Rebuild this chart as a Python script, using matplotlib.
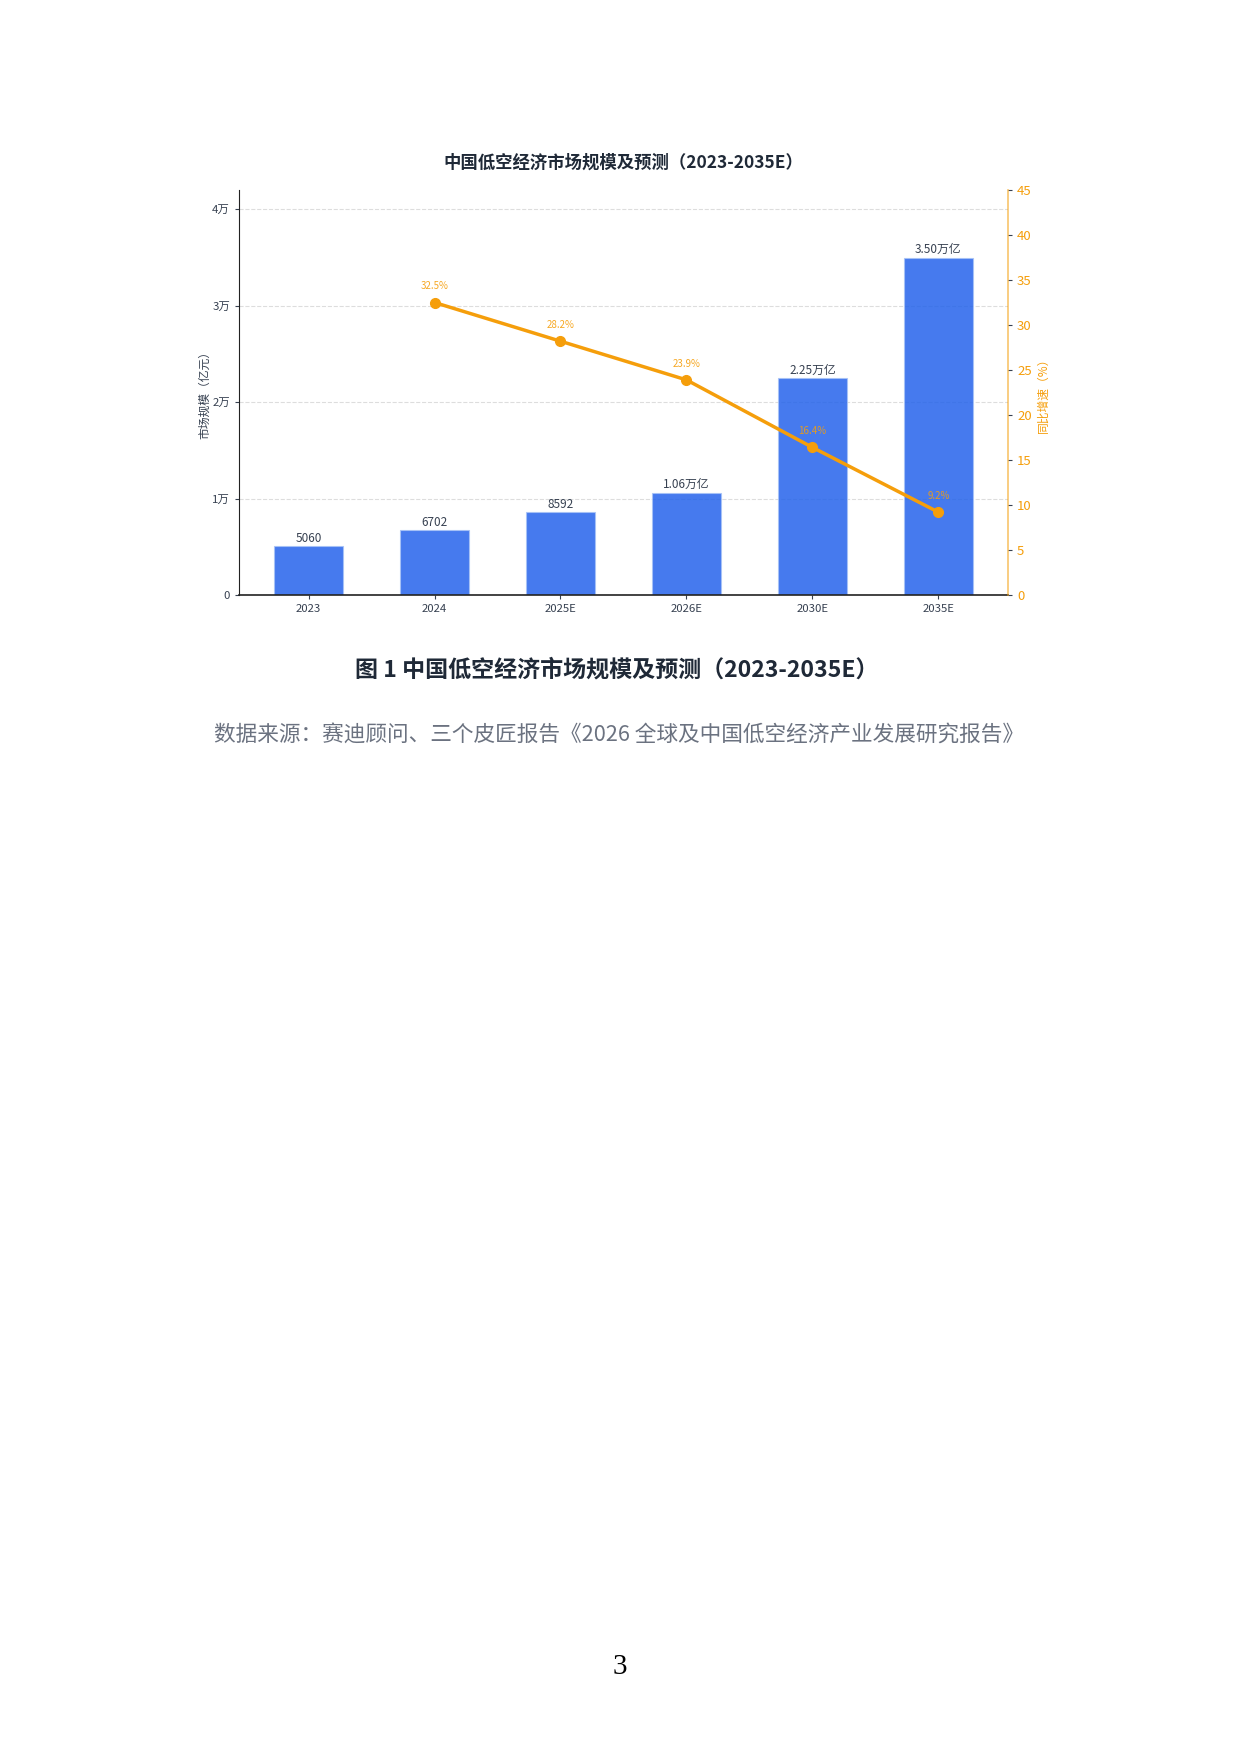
import matplotlib
matplotlib.use("Agg")
import matplotlib.pyplot as plt
from matplotlib.ticker import FuncFormatter

plt.rcParams['font.family'] = ['Noto Sans CJK SC', 'DejaVu Sans']
plt.rcParams['axes.unicode_minus'] = False

# data
years = ['2023', '2024', '2025E', '2026E', '2030E', '2035E']
market = [5060, 6702, 8592, 10600, 22500, 35000]  # 亿元
market_labels = ['5060', '6702', '8592', '1.06万亿', '2.25万亿', '3.50万亿']
growth_years = ['2024', '2025E', '2026E', '2030E', '2035E']
growth = [32.5, 28.2, 23.9, 16.4, 9.2]  # %

BLUE = '#2563eb'
ORANGE = '#f59e0b'
DARK = '#374151'

fig = plt.figure(figsize=(12.4, 17.53), dpi=100)
ax = fig.add_axes([0.1927, 0.6606, 0.6202, 0.2310])

x = list(range(len(years)))
bars = ax.bar(x, market, width=0.55, color=BLUE, alpha=0.85,
              edgecolor='#a8c3f7', linewidth=0.8, zorder=2)
ax.bar_label(bars, labels=market_labels, padding=1, fontsize=8.5, color=DARK)

ax.set_ylim(0, 42000)
ax.set_yticks([0, 10000, 20000, 30000, 40000])
ax.yaxis.set_major_formatter(FuncFormatter(lambda v, p: '0' if v == 0 else f'{int(v / 10000)}万'))
ax.set_xticks(x)
ax.set_xticklabels(years)
ax.tick_params(axis='both', labelsize=8.2, colors=DARK, length=3)
ax.set_ylabel('市场规模（亿元）', fontsize=8.5, color=DARK, labelpad=1)
ax.grid(axis='y', linestyle='--', color='#dddddd', linewidth=0.8, zorder=0)
ax.set_axisbelow(True)
ax.spines['top'].set_visible(False)
ax.spines['right'].set_visible(False)
ax.spines['left'].set_color('#222222')
ax.spines['bottom'].set_color('#222222')
ax.spines['bottom'].set_linewidth(1.2)

ax2 = ax.twinx()
gx = [years.index(g) for g in growth_years]
ax2.plot(gx, growth, color=ORANGE, linewidth=2.5, marker='o', markersize=7, zorder=3)
for xi, g in zip(gx, growth):
    ax2.annotate(f'{g}%', (xi, g), textcoords='offset points', xytext=(0, 8),
                 ha='center', va='bottom', fontsize=7, color=ORANGE, alpha=0.9)
ax2.set_ylim(0, 45)
ax2.set_yticks(range(0, 46, 5))
ax2.tick_params(axis='y', labelsize=9.5, labelcolor=ORANGE, color=DARK, length=3)
ax2.set_ylabel('同比增速（%）', fontsize=8.5, color=ORANGE, rotation=90, labelpad=4)
ax2.spines['top'].set_visible(False)
ax2.spines['left'].set_visible(False)
ax2.spines['bottom'].set_visible(False)
ax2.spines['right'].set_color(ORANGE)
ax2.spines['right'].set_alpha(0.6)
ax2.spines['right'].set_linewidth(1.2)

ax.set_title('中国低空经济市场规模及预测（2023-2035E）', fontsize=12.5,
             fontweight='bold', color='#1f2937', pad=16)

fig.text(0.4975, 0.6178, '图 1 中国低空经济市场规模及预测（2023-2035E）',
         ha='center', va='center', fontsize=16.6, fontweight='bold', color='#1f2937')
fig.text(0.4995, 0.5807, '数据来源：赛迪顾问、三个皮匠报告《2026 全球及中国低空经济产业发展研究报告》',
         ha='center', va='center', fontsize=15.6, style='italic', color='#6b7280')
fig.text(0.5, 0.049, '3', ha='center', va='center', fontsize=21,
         family=['Liberation Serif', 'DejaVu Serif'], color='black')

fig.savefig('out.png', dpi=100)
